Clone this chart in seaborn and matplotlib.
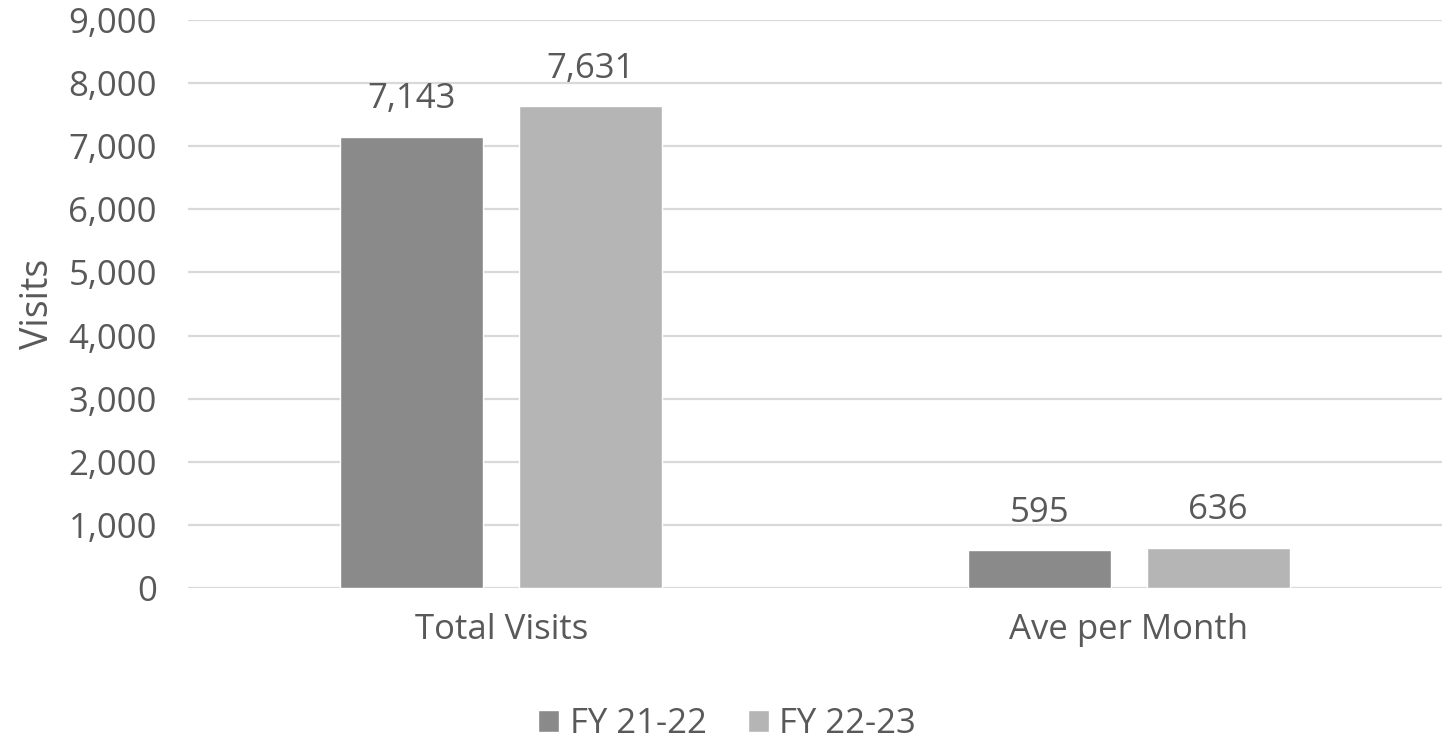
import matplotlib
matplotlib.use("Agg")
import matplotlib.pyplot as plt
import seaborn as sns
import pandas as pd
from matplotlib.ticker import FuncFormatter

categories = ["Total Visits", "Ave per Month"]
series_names = ["FY 21-22", "FY 22-23"]
fy2122 = [7143, 595]
fy2223 = [7631, 636]
yticks = [0, 1000, 2000, 3000, 4000, 5000, 6000, 7000, 8000, 9000]

df = pd.DataFrame({
    "Category": categories * 2,
    "Series": [series_names[0]] * 2 + [series_names[1]] * 2,
    "Visits": fy2122 + fy2223,
})

sns.set_theme(style="white")
plt.rcParams["font.family"] = ["Open Sans", "DejaVu Sans"]
text_color = "#595959"

fig = plt.figure(figsize=(14.48, 7.47), dpi=100)
ax = fig.add_axes([0.1295, 0.2129, 0.8667, 0.7603])

palette = {series_names[0]: "#8a8a8a", series_names[1]: "#b5b5b5"}
sns.barplot(data=df, x="Category", y="Visits", hue="Series", order=categories,
            hue_order=series_names, palette=palette, width=0.57, gap=0.2,
            saturation=1, ax=ax, legend=True)

ax.set_ylim(0, 9000)
ax.set_yticks(yticks)
ax.yaxis.set_major_formatter(FuncFormatter(lambda v, p: f"{int(v):,}"))
ax.grid(axis="y", color="#d9d9d9", linewidth=1.6)
ax.set_axisbelow(True)
for s in ax.spines.values():
    s.set_visible(False)
ax.tick_params(axis="both", length=0, colors=text_color)
ax.tick_params(axis="y", pad=22, labelsize=25)
ax.tick_params(axis="x", pad=18, labelsize=25)
ax.set_xlabel("")
ax.set_ylabel("Visits", fontsize=27, color=text_color, labelpad=8)

for cont in ax.containers:
    ax.bar_label(cont, labels=[f"{int(b.get_height()):,}" for b in cont],
                 padding=15, fontsize=25, color=text_color)

ax.legend(loc="center", bbox_to_anchor=(0.43, -0.24), ncol=2, frameon=False,
          fontsize=25, labelcolor=text_color, handlelength=0.6, handleheight=0.6,
          handletextpad=0.3, columnspacing=1.2)

fig.savefig("out.png", dpi=100)
